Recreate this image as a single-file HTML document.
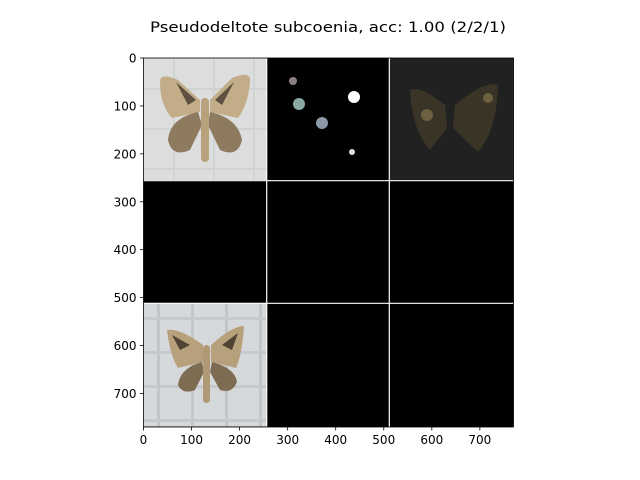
<!DOCTYPE html>
<html><head><meta charset="utf-8"><style>
html,body{margin:0;padding:0;background:#fff;}
svg{display:block;font-family:"DejaVu Sans","Liberation Sans",sans-serif;}
</style></head><body>
<svg id="chart" width="640" height="480" viewBox="0 0 640 480" xmlns="http://www.w3.org/2000/svg">
<defs>
<pattern id="grid1" width="40" height="40" patternUnits="userSpaceOnUse" x="143" y="58">
<rect width="40" height="40" fill="#dcdedd"/>
<rect x="30" width="2" height="40" fill="#d0d3d2"/>
<rect y="30" width="40" height="2" fill="#d0d3d2"/>
</pattern>
<pattern id="grid2" width="34" height="34" patternUnits="userSpaceOnUse" x="143" y="303">
<rect width="34" height="34" fill="#d6d9db"/>
<rect x="14" width="3" height="34" fill="#c3c6c8"/>
<rect y="14" width="34" height="3" fill="#c6c9cb"/>
</pattern>
</defs>
<text x="328" y="32" font-size="14.5" text-anchor="middle" textLength="356" lengthAdjust="spacingAndGlyphs" fill="#000">Pseudodeltote subcoenia, acc: 1.00 (2/2/1)</text>
<g id="plot">
<rect x="143.5" y="58" width="370" height="369" fill="#000"/>
<g>
<rect x="143.5" y="58" width="123" height="122" fill="url(#grid1)"/>
<path d="M200,100 L178,80 Q160,72 160,82 Q160,105 172,118 L200,112 Z" fill="#c2ad88"/>
<path d="M210,100 L232,78 Q252,70 250,82 Q248,105 238,118 L210,112 Z" fill="#c2ad88"/>
<path d="M198,112 Q170,118 168,140 Q172,158 190,150 L202,125 Z" fill="#8e7b5f"/>
<path d="M210,112 Q238,118 242,140 Q238,158 220,150 L208,125 Z" fill="#8e7b5f"/>
<path d="M176,82 L196,100 L188,105 Z M234,82 L215,100 L222,105 Z" fill="#5e5140"/>
<rect x="201" y="98" width="8" height="64" rx="4" fill="#b8a27c"/>
</g>
<g>
<circle cx="354" cy="97" r="6" fill="#fff"/>
<circle cx="299" cy="104" r="6" fill="#8aa9a5"/>
<circle cx="322" cy="123" r="6" fill="#8a98a8"/>
<circle cx="293" cy="81" r="4" fill="#8a7f84"/>
<circle cx="352" cy="152" r="3" fill="#ddd"/>
</g>
<g>
<rect x="389.5" y="58" width="124" height="122" fill="#212121"/>
<path d="M445,105 Q420,85 410,90 Q412,130 430,150 L447,128 Z" fill="#3a3426"/>
<path d="M455,105 Q485,80 498,85 Q497,130 478,152 L453,128 Z" fill="#3a3426"/>
<circle cx="427" cy="115" r="6" fill="#6b6040"/>
<circle cx="488" cy="98" r="5" fill="#6b6040"/>
</g>
<g>
<rect x="143.5" y="303.5" width="123" height="123" fill="url(#grid2)"/>
<path d="M203,345 Q180,328 167,330 Q170,355 178,368 L203,362 Z" fill="#b7a07c"/>
<path d="M211,345 Q232,326 244,326 Q242,355 236,368 L211,362 Z" fill="#b7a07c"/>
<path d="M202,362 Q180,368 178,385 Q183,395 195,390 L204,372 Z" fill="#7d6b52"/>
<path d="M212,362 Q235,368 237,382 Q232,394 220,390 L210,372 Z" fill="#7d6b52"/>
<path d="M172,335 L190,345 L180,350 Z M238,333 L222,345 L232,350 Z" fill="#4f4334"/>
<rect x="203" y="345" width="7" height="58" rx="3.5" fill="#b09a76"/>
</g>
<g stroke="#fff" stroke-width="1.2">
<line x1="266.7" y1="58" x2="266.7" y2="427"/>
<line x1="389.3" y1="58" x2="389.3" y2="427"/>
<line x1="143.5" y1="180.7" x2="513.5" y2="180.7"/>
<line x1="143.5" y1="303.3" x2="513.5" y2="303.3"/>
</g>
<rect x="143.5" y="58" width="370" height="369" fill="none" stroke="#000" stroke-width="0.8"/>
</g>
<g id="xaxis"></g>
<g id="yaxis"></g>
</svg>
<script>
const xTicks = [0,100,200,300,400,500,600,700];
const yTicks = [0,100,200,300,400,500,600,700];
const extent = 770;
const x0 = 143.5, x1 = 513.5, y0 = 58, y1 = 427;
const ns = 'http://www.w3.org/2000/svg';
function xs(v){return x0 + (x1-x0)*v/extent;}
function ys(v){return y0 + (y1-y0)*v/extent;}
const xg = document.getElementById('xaxis');
const yg = document.getElementById('yaxis');
xTicks.forEach(v=>{
  const l=document.createElementNS(ns,'line');
  
  
  l.setAttribute('x1',xs(v));l.setAttribute('x2',xs(v));l.setAttribute('y1',y1);l.setAttribute('y2',y1+3.5);
  l.setAttribute('stroke','#000');l.setAttribute('stroke-width','0.8');
  xg.appendChild(l);
  const t=document.createElementNS(ns,'text');
  
  
  t.setAttribute('x',xs(v));t.setAttribute('y',y1+17);t.setAttribute('font-size','12');t.setAttribute('text-anchor','middle');
  t.textContent=v;xg.appendChild(t);
});
yTicks.forEach(v=>{
  const l=document.createElementNS(ns,'line');
  
  
  l.setAttribute('x1',x0-3.5);l.setAttribute('x2',x0);l.setAttribute('y1',ys(v));l.setAttribute('y2',ys(v));
  l.setAttribute('stroke','#000');l.setAttribute('stroke-width','0.8');
  yg.appendChild(l);
  const t=document.createElementNS(ns,'text');
  
  
  t.setAttribute('x',x0-7);t.setAttribute('y',ys(v)+4.5);t.setAttribute('font-size','12');t.setAttribute('text-anchor','end');
  t.textContent=v;yg.appendChild(t);
});
</script>
</body></html>
